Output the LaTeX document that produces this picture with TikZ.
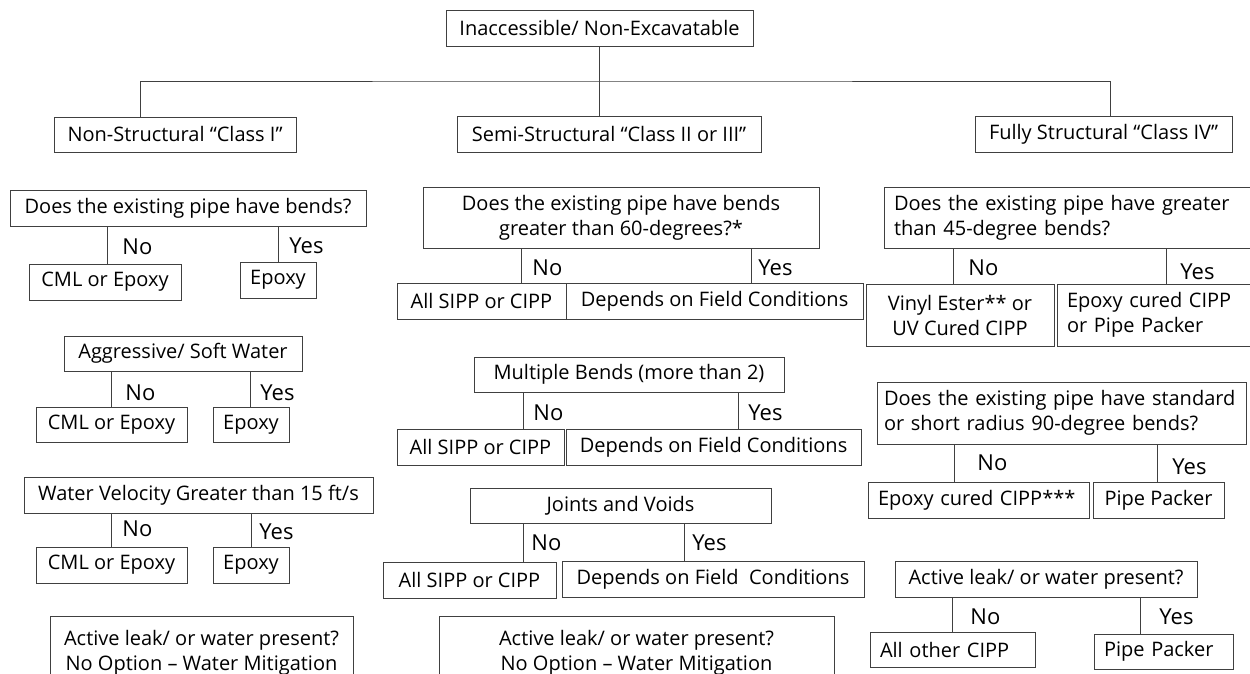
\documentclass[tikz,border=0pt]{standalone}
\usepackage{fontspec}
\setmainfont{Open Sans}
\begin{document}
\begin{tikzpicture}[x=1pt,y=-1pt,
  box/.style={draw=black!75, line width=0.9pt, inner sep=0pt, align=center, font=\fontsize{20}{25}\selectfont},
  ans/.style={anchor=west, inner sep=0pt, font=\fontsize{22}{25}\selectfont},
  wire/.style={draw=black!75, line width=0.9pt}]
\useasboundingbox (0,0) rectangle (1250,674);
\clip (0,0) rectangle (1250,674);
% top of the tree
\node[box, minimum width=307, minimum height=36] (root) at (599.5,28) {Inaccessible/ Non-Excavatable};
\node[box, minimum width=242, minimum height=35] (nonstr) at (175,134.5) {Non-Structural “Class I”};
\node[box, minimum width=304, minimum height=36] (semi) at (609,134) {Semi-Structural “Class II or III”};
\node[box, minimum width=257, minimum height=36] (full) at (1103.5,134) {Fully Structural “Class IV”};
\coordinate (bar) at (root.south |- 0,81);
\draw[wire] (root.south) -- (semi.north -| root.south);
\draw[wire] (nonstr.north -| 140,0) |- (bar) -| (full.north -| 1110,0);
% non-structural column
\node[box, minimum width=356, minimum height=36] (lq1) at (188,208) {Does the existing pipe have bends?};
\node[box, minimum width=152, minimum height=36] (lcml1) at (105,282) {CML or Epoxy};
\node[box, minimum width=76, minimum height=36] (lepx1) at (278,280) {Epoxy};
\draw[wire] (lq1.south -| 107,0) -- (lcml1.north -| 107,0) node[ans] at (122,247) {No};
\draw[wire] (lq1.south -| 278,0) -- (lepx1.north -| 278,0) node[ans] at (289,246) {Yes};
\node[box, minimum width=238, minimum height=35] (lq2) at (183,353.5) {Aggressive/ Soft Water};
\node[box, minimum width=151, minimum height=35] (lcml2) at (111.5,424.5) {CML or Epoxy};
\node[box, minimum width=76, minimum height=35] (lepx2) at (251,424.5) {Epoxy};
\draw[wire] (lq2.south -| 111,0) -- (lcml2.north -| 111,0) node[ans] at (125,393) {No};
\draw[wire] (lq2.south -| 250,0) -- (lepx2.north -| 250,0) node[ans] at (260,393) {Yes};
\node[box, minimum width=349, minimum height=36] (lq3) at (198.5,495) {Water Velocity Greater than 15 ft/s};
\node[box, minimum width=151, minimum height=36] (lcml3) at (111.5,565) {CML or Epoxy};
\node[box, minimum width=76, minimum height=36] (lepx3) at (251,565) {Epoxy};
\draw[wire] (lq3.south -| 111,0) -- (lcml3.north -| 111,0) node[ans] at (122,529) {No};
\draw[wire] (lq3.south -| 251,0) -- (lepx3.north -| 251,0) node[ans] at (259,532) {Yes};
\node[box, minimum width=303, minimum height=74] (lleak) at (201.5,653) {Active leak/ or water present?\\No Option – Water Mitigation};
% semi-structural column
\node[box, minimum width=396, minimum height=61] (mq1) at (621,217.5) {Does the existing pipe have bends\\greater than 60-degrees?*};
\node[box, minimum width=169, minimum height=36] (msipp1) at (481.5,301) {All SIPP or CIPP};
\node[box, minimum width=297, minimum height=36] (mdep1) at (714.5,301) {Depends on Field Conditions};
\draw[wire] (mq1.south -| 521,0) -- (msipp1.north -| 521,0) node[ans] at (532,268) {No};
\draw[wire] (mq1.south -| 751,0) -- (mdep1.north -| 751,0) node[ans] at (758,268) {Yes};
\node[box, minimum width=310, minimum height=35] (mq2) at (629,374.5) {Multiple Bends (more than 2)};
\node[box, minimum width=167, minimum height=36] (msipp2) at (480.5,447) {All SIPP or CIPP};
\node[box, minimum width=295, minimum height=36] (mdep2) at (713.5,447) {Depends on Field Conditions};
\draw[wire] (mq2.south -| 523,0) -- (msipp2.north -| 523,0) node[ans] at (533,413) {No};
\draw[wire] (mq2.south -| 738,0) -- (mdep2.north -| 738,0) node[ans] at (748,413) {Yes};
\node[box, minimum width=301, minimum height=35] (mq3) at (620.5,505.5) {Joints and Voids};
\node[box, minimum width=173, minimum height=36] (msipp3) at (469.5,580) {All SIPP or CIPP};
\node[box, minimum width=302, minimum height=36] (mdep3) at (713,579) {Depends on Field~~Conditions};
\draw[wire] (mq3.south -| 523,0) -- (msipp3.north -| 523,0) node[ans] at (531,543) {No};
\draw[wire] (mq3.south -| 684,0) -- (mdep3.north -| 684,0) node[ans] at (692,543) {Yes};
\node[box, minimum width=395, minimum height=74] (mleak) at (636.5,653) {Active leak/ or water present?\\No Option – Water Mitigation};
% fully structural column
\node[box, inner xsep=10, text width=358, align=left, minimum height=61] (rq1) at (1073,217.5) {Does the existing pipe have greater\\than 45-degree bends?};
\node[box, minimum width=188, minimum height=62] (rvinyl) at (960,315) {Vinyl Ester** or\\UV Cured CIPP};
\node[box, inner xsep=10, text width=185, align=left, minimum height=62] (repx) at (1159.5,315) {Epoxy cured CIPP\\or Pipe Packer};
\draw[wire] (rq1.south -| 953,0) -- (rvinyl.north -| 953,0) node[ans] at (968,268) {No};
\draw[wire] (rq1.south -| 1166,0) -- (repx.north -| 1166,0) node[ans] at (1180,272) {Yes};
\node[box, inner xsep=7, text width=355, align=left, minimum height=62] (rq2) at (1061.5,413) {Does the existing pipe have standard\\or short radius 90-degree bends?};
\node[box, inner xsep=10, text width=201, align=left, minimum height=36] (repc) at (978.5,500) {Epoxy cured CIPP***};
\node[box, minimum width=131, minimum height=36] (rpp1) at (1158.5,500) {Pipe Packer};
\draw[wire] (rq2.south -| 954,0) -- (repc.north -| 954,0) node[ans] at (977,463) {No};
\draw[wire] (rq2.south -| 1157,0) -- (rpp1.north -| 1157,0) node[ans] at (1172,467) {Yes};
\node[box, minimum width=302, minimum height=36] (rq3) at (1046,579) {Active leak/ or water present?};
\node[box, inner xsep=10, text width=145, align=left, minimum height=35] (rother) at (952.5,649.5) {All other CIPP};
\node[box, inner xsep=10, text width=119, align=left, minimum height=35] (rpp2) at (1163.5,651.5) {Pipe Packer};
\draw[wire] (rq3.south -| 952,0) -- (rother.north -| 952,0) node[ans] at (970,617) {No};
\draw[wire] (rq3.south -| 1140,0) -- (rpp2.north -| 1140,0) node[ans] at (1159,617) {Yes};
\end{tikzpicture}
\end{document}
